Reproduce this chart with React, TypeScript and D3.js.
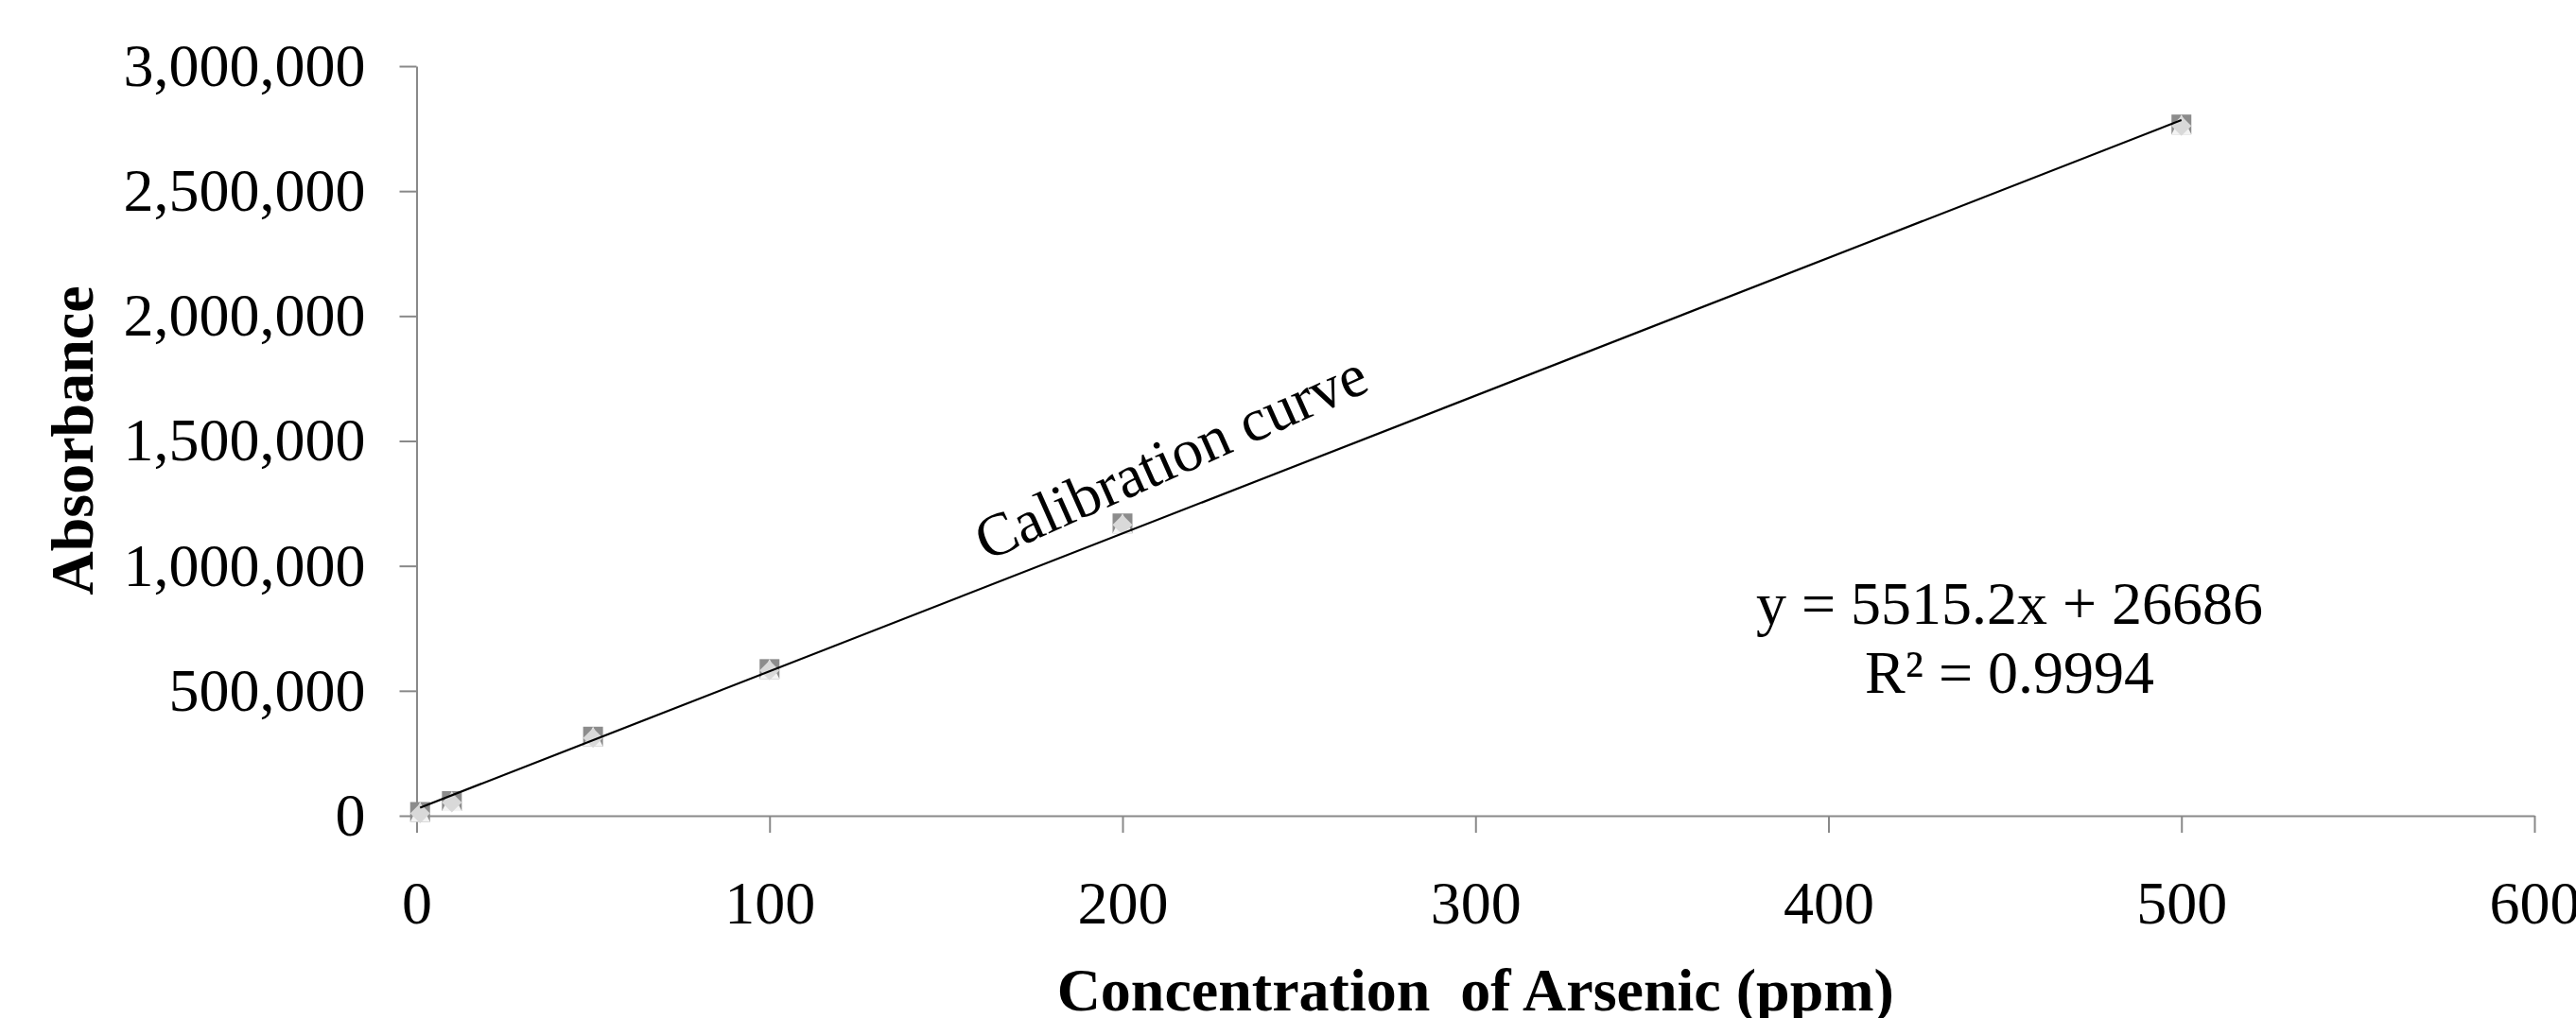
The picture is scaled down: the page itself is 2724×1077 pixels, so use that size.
import { useRef, useEffect } from "react";
import * as d3 from "d3";

const FONT = "'Liberation Serif', 'Times New Roman', serif";

// data
const concentrations = [1, 10, 50, 100, 200, 500];
const absorbance = [15000, 58600, 316600, 587000, 1170000, 2766600];
const xTicks = [0, 100, 200, 300, 400, 500, 600];
const yTicks = [0, 500000, 1000000, 1500000, 2000000, 2500000, 3000000];
const slope = 5515.2;
const intercept = 26686;
const eqLines = ["y = 5515.2x + 26686", "R² = 0.9994"];
const curveLabel = "Calibration curve";
const xTitle = "Concentration  of Arsenic (ppm)";
const yTitle = "Absorbance";

const W = 2724;
const H = 1077;
const AXIS = "#898989";

export default function App() {
  const ref = useRef<SVGSVGElement>(null);

  useEffect(() => {
    if (!ref.current) return;
    const svg = d3.select(ref.current);
    svg.selectAll("*").remove();

    const mg = { t: 70, r: 44, b: 214, l: 440.5 };

    const x = d3.scaleLinear().domain([0, 600]).range([mg.l, W - mg.r]);
    const y = d3.scaleLinear().domain([0, 3000000]).range([H - mg.b, mg.t]);

    // Y-axel
    svg.append("g")
      .attr("transform", `translate(${mg.l},0)`)
      .call(
        d3.axisLeft(y).tickValues(yTicks).tickSize(18).tickSizeOuter(0).tickPadding(36)
          .tickFormat((d) => d3.format(",")(d as number))
      )
      .call((g) => g.selectAll("line, path").attr("stroke", AXIS).attr("stroke-width", 2))
      .selectAll("text")
      .attr("fill", "#000").attr("font-size", "64px").attr("font-family", FONT);

    // X-axel
    svg.append("g")
      .attr("transform", `translate(0,${H - mg.b})`)
      .call(
        d3.axisBottom(x).tickValues(xTicks).tickSize(18).tickSizeOuter(0).tickPadding(51)
          .tickFormat((d) => String(d))
      )
      .call((g) => g.selectAll("line, path").attr("stroke", AXIS).attr("stroke-width", 2))
      .selectAll("text")
      .attr("fill", "#000").attr("font-size", "64px").attr("font-family", FONT);

    const pts = concentrations.map((c, i) => ({ c, v: absorbance[i] }));

    // markers: square, triangle, diamond stacked like the Excel series
    const s = 10.5;
    const mk = svg.append("g");
    pts.forEach((p) => {
      const cx = x(p.c);
      const cy = y(p.v);
      mk.append("rect")
        .attr("x", cx - s).attr("y", cy - s).attr("width", s * 2).attr("height", s * 2)
        .attr("fill", "#8c8c8c");
      mk.append("path")
        .attr("d", `M${cx},${cy - s}L${cx + s},${cy + s}L${cx - s},${cy + s}Z`)
        .attr("fill", "#f3f3f3");
      const dy = cy + 1.5;
      mk.append("path")
        .attr("d", `M${cx},${dy - s}L${cx + s},${dy}L${cx},${dy + s}L${cx - s},${dy}Z`)
        .attr("fill", "#d9d9d9");
    });

    // trendline from the fitted equation
    const [x0, x1] = d3.extent(concentrations) as [number, number];
    const trend = [x0, x1].map((c) => ({ c, v: slope * c + intercept }));
    svg.append("path").datum(trend)
      .attr("d", d3.line<{ c: number; v: number }>().x((d) => x(d.c)).y((d) => y(d.v)))
      .attr("fill", "none").attr("stroke", "#000").attr("stroke-width", 2.2);

    // label along the line
    svg.append("text")
      .attr("transform", `translate(1043,594) rotate(-24)`)
      .attr("font-family", FONT).attr("font-size", "64px").attr("fill", "#000")
      .text(curveLabel);

    // equation
    eqLines.forEach((t, i) => {
      svg.append("text")
        .attr("x", 2125).attr("y", 660 + i * 73)
        .attr("text-anchor", "middle")
        .attr("font-family", FONT).attr("font-size", "64px").attr("fill", "#000")
        .text(t);
    });

    // axis titles
    svg.append("text")
      .attr("x", (mg.l + W - mg.r) / 2).attr("y", 1069)
      .attr("text-anchor", "middle")
      .attr("font-family", FONT).attr("font-size", "64px").attr("font-weight", "bold")
      .style("white-space", "pre")
      .text(xTitle);

    svg.append("text")
      .attr("transform", `translate(98,466) rotate(-90)`)
      .attr("text-anchor", "middle")
      .attr("font-family", FONT).attr("font-size", "64px").attr("font-weight", "bold")
      .text(yTitle);
  }, []);

  return (
    <svg
      ref={ref}
      width={W}
      height={H}
      style={{ position: "absolute", left: 0, top: 0, background: "#fff", display: "block" }}
    />
  );
}
